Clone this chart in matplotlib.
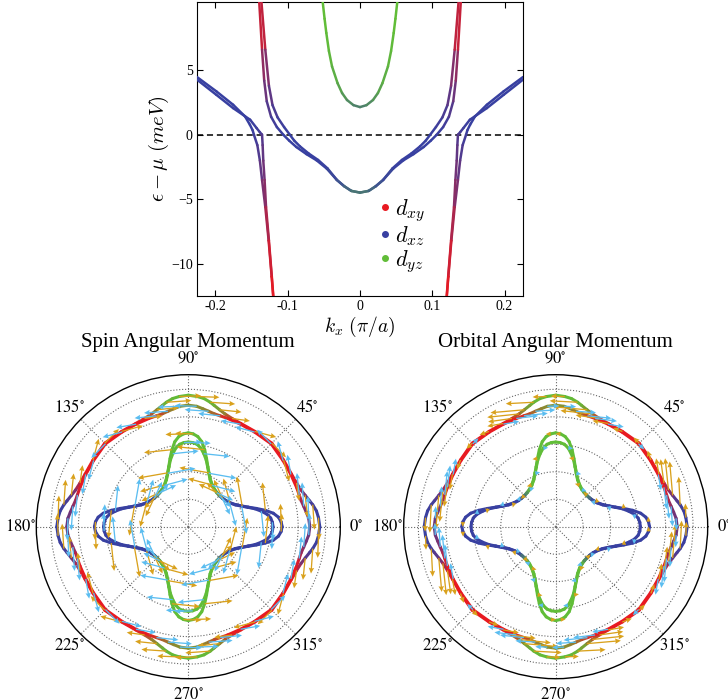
import numpy as np
import matplotlib
matplotlib.use('Agg')
import matplotlib.pyplot as plt
from matplotlib.collections import LineCollection
from matplotlib.lines import Line2D
from matplotlib.font_manager import FontProperties

plt.rcParams['font.family'] = ['Liberation Serif', 'DejaVu Serif']
plt.rcParams['mathtext.fontset'] = 'stix'

RED = np.array([0.91, 0.10, 0.13])
BLUE = np.array([0.22, 0.25, 0.63])
GREEN = np.array([0.38, 0.74, 0.22])
ORANGE = '#d9a11c'
SKY = '#5bbdf0'

# ---------------- band structure (left half, k <= 0) ----------------
# upper band, two spin-split branches (from k=0 outward)
up_a_k = [0, -0.012, -0.022, -0.032, -0.046, -0.060, -0.074, -0.088, -0.098, -0.106, -0.115, -0.123, -0.129, -0.1325, -0.1355, -0.1395]
up_a_E = [-4.48, -4.35, -3.98, -3.5, -2.62, -1.98, -1.5, -0.95, -0.45, 0.0, 0.6, 1.4, 2.6, 4.2, 6.6, 10.4]
up_a_wxy = [0, 0, 0, 0, 0, 0, 0, 0, 0, 0, 0.08, 0.2, 0.4, 0.6, 0.8, 1.0]
up_a_wyz = [0.45, 0.38, 0.22, 0.1, 0.02, 0, 0, 0, 0, 0, 0, 0, 0, 0, 0, 0]
up_b_k = [0, -0.012, -0.022, -0.032, -0.045, -0.058, -0.071, -0.083, -0.091, -0.097, -0.105, -0.114, -0.121, -0.126, -0.131, -0.1365]
up_b_E = [-4.48, -4.35, -3.98, -3.5, -2.6, -1.95, -1.45, -0.9, -0.45, 0.0, 0.6, 1.35, 2.3, 3.8, 6.6, 10.4]
up_b_wxy = [0, 0, 0, 0, 0, 0, 0, 0, 0, 0, 0.05, 0.15, 0.3, 0.5, 0.75, 1.0]
up_b_wyz = [0.45, 0.38, 0.22, 0.1, 0.02, 0, 0, 0, 0, 0, 0, 0, 0, 0, 0, 0]
# lower band, two branches (from left edge downward)
lo_a_k = [-0.2255, -0.1987, -0.1755, -0.159, -0.1523, -0.1485, -0.1467, -0.142, -0.1385, -0.1355, -0.131, -0.1264, -0.1222, -0.1200]
lo_a_E = [4.48, 3.37, 2.33, 1.42, 0.78, 0.35, 0.0, -0.8, -2.0, -3.5, -5.6, -8.2, -11.0, -12.6]
lo_a_wxy = [0, 0, 0, 0, 0, 0.03, 0.08, 0.2, 0.35, 0.5, 0.7, 0.88, 0.97, 1.0]
lo_b_k = [-0.2255, -0.1987, -0.1755, -0.152, -0.143, -0.1385, -0.1362, -0.1355, -0.1347, -0.1338, -0.132, -0.130, -0.126, -0.122, -0.1198]
lo_b_E = [4.28, 3.1, 2.07, 1.17, 0.52, 0.2, 0.05, 0.0, -0.8, -2.0, -3.5, -5.6, -8.2, -11.0, -12.6]
lo_b_wxy = [0, 0, 0, 0.02, 0.08, 0.15, 0.22, 0.28, 0.38, 0.48, 0.6, 0.75, 0.9, 0.97, 1.0]
# d_yz band (from k=0 outward)
gr_k = [0, -0.009, -0.018, -0.0248, -0.031, -0.0387, -0.043, -0.0466, -0.049, -0.0518]
gr_E = [2.15, 2.3, 2.7, 3.24, 4.0, 5.3, 6.5, 7.9, 9.0, 10.4]
gr_wxz = [0.5, 0.45, 0.35, 0.25, 0.15, 0.07, 0.03, 0, 0, 0]

xticks = [-0.2, -0.1, 0, 0.1, 0.2]
xticklabels = ['-0.2', '-0.1', '0', '0.1', '0.2']
yticks = [-10, -5, 0, 5]
yticklabels = ['\u221210', '\u22125', '0', '5']
legend_labels = [r'$d_{xy}$', r'$d_{xz}$', r'$d_{yz}$']

# ---------------- Fermi surface, first quadrant (theta in deg, r) ----------------
oa_th = [0, 4, 7, 10, 12, 15, 18, 22, 27, 35, 45, 55, 63, 68, 72, 75, 78, 80, 83, 86, 90]
oa_r = [.1436, .1425, .141, .138, .1355, .1322, .1295, .1275, .1265, .127, .129, .127, .1265, .1275, .1295, .1322, .1355, .138, .141, .1425, .1436]
oa_wxy = [0, 0, .05, .12, .2, .45, .7, .9, 1, 1, 1, 1, 1, .9, .7, .45, .2, .12, .05, 0, 0]
ob_th = [0, 4, 7, 10, 13, 16, 20, 27, 35, 45, 55, 63, 70, 74, 77, 80, 83, 86, 90]
ob_r = [.1327, .1318, .1298, .128, .1265, .126, .1258, .1257, .1262, .128, .1262, .1257, .1258, .126, .1265, .128, .1298, .1318, .1327]
ob_wxy = [.45, .5, .55, .65, .8, .9, 1, 1, 1, 1, 1, 1, 1, .9, .8, .65, .55, .5, .45]
ia_th = [0, 3, 6, 9, 12, 15, 18, 21, 25, 30, 35, 40, 45, 50, 55, 60, 65, 69, 72, 75, 78, 81, 84, 87, 90]
ia_r = [.1025, .1015, .099, .094, .086, .077, .069, .063, .057, .0525, .050, .0487, .0483, .0487, .050, .0525, .057, .063, .069, .077, .086, .094, .099, .1015, .1025]
ib_r = [.0925, .092, .0905, .087, .0815, .0755, .0685, .0625, .0565, .0521, .0496, .0484, .048, .0484, .0496, .0521, .0565, .0625, .0685, .0755, .0815, .087, .0905, .092, .0925]
i_wxz = [1, 1, 1, 1, 1, 1, 1, 1, 1, 1, 1, .75, .5, .25, 0, 0, 0, 0, 0, 0, 0, 0, 0, 0, 0]
i_wyz = [0, 0, 0, 0, 0, 0, 0, 0, 0, 0, 0, .25, .5, .75, 1, 1, 1, 1, 1, 1, 1, 1, 1, 1, 1]

# arrows, first quadrant: indices into the curves, lengths (px), direction (deg, counter-clockwise sense)
spin_oa_idx = [1, 3, 5, 7, 9, 10, 11, 13, 15, 17, 19]
spin_oa_len = [22, 25, 22, 18, 22, 20, 22, 18, 22, 25, 22]
spin_oa_dir = [92, 94, 96, 98, 105, 135, 165, 172, 174, 176, 178]
spin_ob_idx = [1, 3, 5, 7, 8, 9, 10, 11, 13, 15, 17]
spin_ob_len = [22, 24, 22, 20, 20, 20, 20, 20, 22, 24, 22]
spin_ob_dir = [92, 94, 96, 100, 105, 135, 165, 170, 174, 176, 178]
spin_ia_idx = [1, 4, 7, 9, 11, 12, 13, 15, 17, 20, 23]
spin_ia_len = [18, 28, 30, 25, 20, 18, 20, 25, 30, 28, 18]
spin_ia_dir = [92, 96, 100, 105, 115, 135, 155, 165, 170, 174, 178]
spin_ib_idx = [1, 4, 7, 9, 11, 12, 13, 15, 17, 20, 23]
spin_ib_len = [18, 26, 28, 24, 18, 16, 18, 24, 28, 26, 18]
spin_ib_dir = [92, 96, 100, 105, 115, 135, 155, 165, 170, 174, 178]

orb_oa_idx = [1, 3, 5, 6, 7, 8, 9, 10, 11, 12, 13, 14, 15, 17, 19]
orb_oa_len = [14, 28, 34, 32, 24, 16, 10, 8, 10, 16, 24, 32, 34, 28, 14]
orb_oa_dir = [92, 93, 95, 96, 98, 100, 110, 135, 160, 170, 172, 174, 175, 177, 178]
orb_ob_idx = [1, 3, 5, 6, 7, 9, 11, 12, 13, 15, 17]
orb_ob_len = [12, 20, 24, 22, 16, 8, 16, 22, 24, 20, 12]
orb_ob_dir = [92, 94, 96, 97, 100, 135, 170, 173, 174, 176, 178]
orb_ia_idx = [1, 5, 9, 12, 15, 19, 23]
orb_ia_len = [5, 5, 5, 5, 5, 5, 5]
orb_ia_dir = [92, 97, 105, 135, 165, 173, 178]
orb_ib_idx = [3, 7, 10, 14, 17, 21]
orb_ib_len = [5, 5, 5, 5, 5, 5]
orb_ib_dir = [94, 100, 110, 160, 170, 176]


def mix(wxy, wxz, wyz):
    wxy = np.asarray(wxy, float); wxz = np.asarray(wxz, float); wyz = np.asarray(wyz, float)
    wr = 0.4 * wxy
    s = wr + wxz + wyz
    s = np.where(s == 0, 1, s)
    c = (wr[:, None] * RED + wxz[:, None] * BLUE + wyz[:, None] * GREEN) / s[:, None]
    return np.clip(c, 0, 1)


def colored_line(ax, x, y, cols, lw, z=3):
    x = np.asarray(x); y = np.asarray(y)
    pts = np.column_stack([x, y])
    segs = np.stack([pts[:-1], pts[1:]], axis=1)
    sc = 0.5 * (cols[:-1] + cols[1:])
    lc = LineCollection(segs, colors=sc, linewidths=lw, capstyle='round', joinstyle='round', zorder=z)
    ax.add_collection(lc)


fig = plt.figure(figsize=(7.28, 7.0), dpi=100)

# ---------------- top band plot ----------------
ax = fig.add_axes([197 / 728, 1 - 296 / 700, 326 / 728, 294 / 700])
ax.axhline(0, color='k', ls='--', lw=1.1, dashes=(4, 2.5), zorder=2)

def full_sym(k, v):
    k = np.asarray(k); v = np.asarray(v, float)
    return np.concatenate([k[::-1], -k[1:]]), np.concatenate([v[::-1], v[1:]])

for kk, EE, wxy, wyz in [(up_a_k, up_a_E, up_a_wxy, up_a_wyz), (up_b_k, up_b_E, up_b_wxy, up_b_wyz)]:
    kf, Ef = full_sym(kk, EE)
    _, wxyf = full_sym(kk, wxy)
    _, wyzf = full_sym(kk, wyz)
    cols = mix(wxyf, 1 - wxyf - wyzf, wyzf)
    colored_line(ax, kf, Ef, cols, 1.8)

for kk, EE, wxy in [(lo_a_k, lo_a_E, lo_a_wxy), (lo_b_k, lo_b_E, lo_b_wxy)]:
    wxy = np.asarray(wxy, float)
    cols = mix(wxy, 1 - wxy, np.zeros_like(wxy))
    colored_line(ax, kk, EE, cols, 1.8)
    colored_line(ax, -np.asarray(kk), EE, cols, 1.8)

kf, Ef = full_sym(gr_k, gr_E)
_, wxzf = full_sym(gr_k, gr_wxz)
colored_line(ax, kf, Ef, mix(np.zeros_like(wxzf), wxzf, 1 - wxzf), 1.8)

ax.set_xlim(-0.2255, 0.2255)
ax.set_ylim(-12.5, 10.3)
ax.set_xticks(xticks)
ax.set_xticklabels(xticklabels)
ax.set_yticks(yticks)
ax.set_yticklabels(yticklabels)
ax.tick_params(direction='in', top=True, right=True, length=4, labelsize=10, pad=3)
ax.set_xlabel(r'$k_x\ (\pi/a)$', fontsize=14, math_fontfamily='cm', labelpad=1)
ax.set_ylabel(r'$\epsilon - \mu\ (meV)$', fontsize=15, math_fontfamily='cm', labelpad=0)

handles = [Line2D([], [], ls='', marker='o', markersize=4, color=c) for c in (RED, BLUE, GREEN)]
ax.legend(handles, legend_labels, loc='center', bbox_to_anchor=(0.628, 0.205), frameon=False,
          prop=FontProperties(size=16, math_fontfamily='cm'), handlelength=0.6, handletextpad=0.15,
          labelspacing=0.0)

# ---------------- polar plots ----------------
def quad_full(th, v):
    th = np.asarray(th, float); v = np.asarray(v, float)
    T = np.concatenate([th, 180 - th[::-1], 180 + th, 360 - th[::-1]])
    V = np.concatenate([v, v[::-1], v, v[::-1]])
    return T, V


def draw_curve(axp, th, r, wxy, wxz, wyz):
    T, R = quad_full(th, r)
    _, A = quad_full(th, wxy)
    _, B = quad_full(th, wxz)
    _, C = quad_full(th, wyz)
    colored_line(axp, np.deg2rad(T), R, mix(A, B, C), 2.2)


def outer_weights(th, wxy):
    th = np.asarray(th, float); wxy = np.asarray(wxy, float)
    rest = 1 - wxy
    wxz = np.where(th < 45, rest, 0.0)
    wyz = np.where(th >= 45, rest, 0.0)
    return wxy, wxz, wyz


def draw_arrows(axp, th, r, idx, lens, dirs, color, sense):
    th = np.asarray(th, float); r = np.asarray(r, float)
    t0 = th[idx]; r0 = r[idx]; L = np.asarray(lens, float)
    ph = np.deg2rad(np.asarray(dirs, float))
    u = L * np.cos(ph) * sense
    v = L * np.sin(ph) * sense
    T = np.concatenate([t0, 180 - t0, 180 + t0, 360 - t0])
    R = np.concatenate([r0, r0, r0, r0])
    U = np.concatenate([u, u, -u, -u])
    V = np.concatenate([v, -v, -v, v])
    axp.quiver(np.deg2rad(T), R, U, V, color=color, angles='uv', scale_units='dots', scale=1,
               units='dots', width=1.3, headwidth=4.2, headlength=4.5, headaxislength=4.0,
               pivot='tail', zorder=6)


theta_labels = [r'$%d^{\circ}$' % a for a in range(0, 360, 45)]

for cx, title, kind in [(188.3, 'Spin Angular Momentum', 'spin'), (555.7, 'Orbital Angular Momentum', 'orb')]:
    axp = fig.add_axes([(cx - 152) / 728, 1 - 678.7 / 700, 304 / 728, 304 / 700], projection='polar')
    axp.set_ylim(0, 0.166)
    axp.set_yticks([0.03, 0.06, 0.09, 0.12, 0.15])
    axp.set_yticklabels([])
    axp.set_thetagrids(np.arange(0, 360, 45), theta_labels, fontsize=12)
    axp.tick_params(axis='x', pad=1)
    axp.grid(True, ls=':', color='0.4', lw=0.8)
    axp.spines['polar'].set_linewidth(1.0)

    wxy, wxz, wyz = outer_weights(oa_th, oa_wxy)
    draw_curve(axp, oa_th, oa_r, wxy, wxz, wyz)
    wxy, wxz, wyz = outer_weights(ob_th, ob_wxy)
    draw_curve(axp, ob_th, ob_r, wxy, wxz, wyz)
    zero = np.zeros(len(ia_th))
    draw_curve(axp, ia_th, ia_r, zero, i_wxz, i_wyz)
    draw_curve(axp, ia_th, ib_r, zero, i_wxz, i_wyz)

    if kind == 'spin':
        draw_arrows(axp, oa_th, oa_r, spin_oa_idx, spin_oa_len, spin_oa_dir, ORANGE, -1)
        draw_arrows(axp, ia_th, ia_r, spin_ia_idx, spin_ia_len, spin_ia_dir, ORANGE, 1)
        draw_arrows(axp, ob_th, ob_r, spin_ob_idx, spin_ob_len, spin_ob_dir, SKY, 1)
        draw_arrows(axp, ia_th, ib_r, spin_ib_idx, spin_ib_len, spin_ib_dir, SKY, -1)
    else:
        draw_arrows(axp, oa_th, oa_r, orb_oa_idx, orb_oa_len, orb_oa_dir, ORANGE, 1)
        draw_arrows(axp, ia_th, ia_r, orb_ia_idx, orb_ia_len, orb_ia_dir, ORANGE, 1)
        draw_arrows(axp, ob_th, ob_r, orb_ob_idx, orb_ob_len, orb_ob_dir, SKY, -1)
        draw_arrows(axp, ia_th, ib_r, orb_ib_idx, orb_ib_len, orb_ib_dir, SKY, -1)

    fig.text(cx / 728, 1 - 342 / 700, title, ha='center', va='center', fontsize=15)

fig.savefig('out.png', dpi=100)
